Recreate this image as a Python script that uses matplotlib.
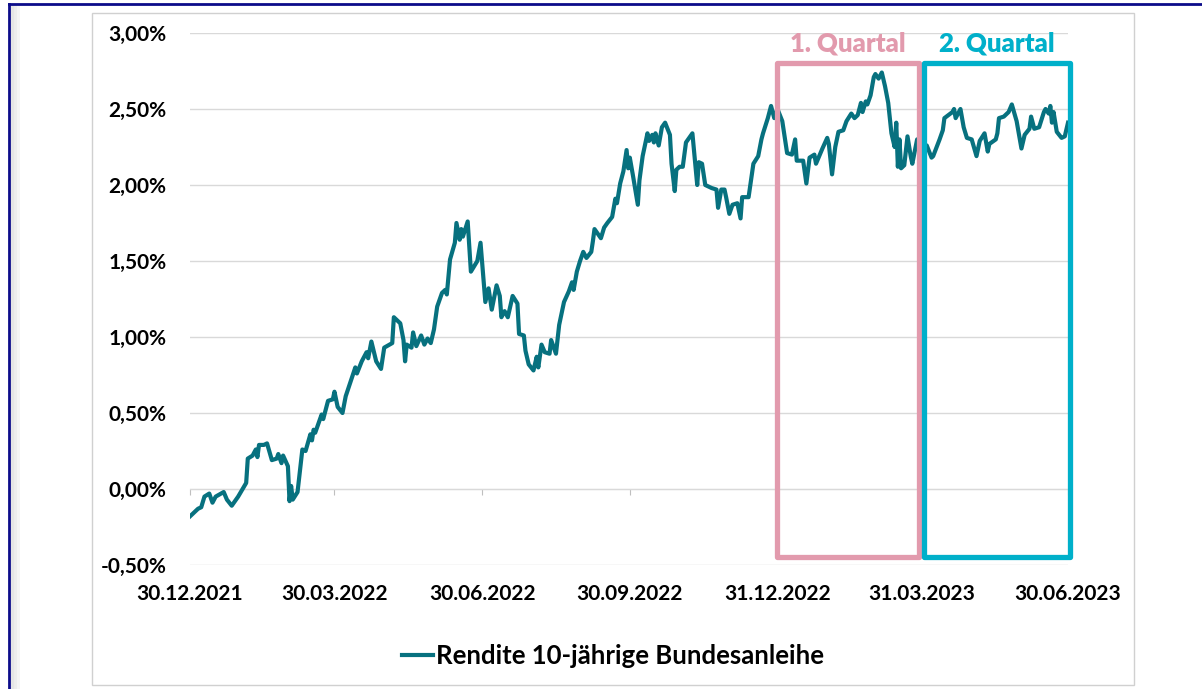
import matplotlib
matplotlib.use("Agg")
import matplotlib.pyplot as plt
import matplotlib.patches as mpatches
from matplotlib.lines import Line2D
from matplotlib.ticker import FuncFormatter
import pandas as pd

plt.rcParams["font.family"] = ["Lato", "DejaVu Sans"]
plt.rcParams["font.weight"] = "bold"

# --- data: 10y Bund yield in %, x = days after 30.12.2021 -------------------
START = pd.Timestamp("2021-12-30")
days = [
    0, 5, 7, 9, 12, 14, 16, 21, 23, 26,
    30, 35, 36, 39, 41, 42, 43, 46, 48, 51,
    54, 55, 57, 58, 61, 62, 63, 64, 67, 70,
    72, 75, 76, 77, 78, 82, 83, 86, 89, 90,
    92, 95, 97, 103, 104, 107, 110, 111, 113, 116,
    119, 121, 126, 127, 131, 133, 134, 135, 138, 139,
    141, 144, 146, 148, 150, 152, 154, 157, 159, 160,
    162, 165, 166, 168, 169, 170, 173, 175, 179, 181,
    184, 186, 188, 191, 193, 194, 196, 198, 201, 204,
    205, 208, 209, 211, 214, 216, 217, 219, 221, 224,
    225, 228, 230, 233, 236, 238, 239, 241, 243, 245,
    247, 250, 251, 252, 256, 258, 260, 263, 265, 266,
    268, 270, 272, 273, 274, 276, 279, 280, 282, 285,
    286, 288, 289, 290, 292, 294, 296, 299, 300, 302,
    303, 305, 307, 309, 313, 316, 317, 319, 321, 325,
    328, 329, 331, 333, 334, 336, 338, 341, 343, 344,
    348, 351, 354, 356, 357, 360, 362, 364, 366, 369,
    371, 372, 375, 377, 378, 382, 384, 386, 389, 390,
    394, 397, 398, 400, 402, 404, 407, 409, 412, 414,
    416, 418, 419, 421, 422, 424, 426, 427, 429, 431,
    433, 435, 437, 439, 440, 441, 442, 443, 445, 447,
    449, 450, 453, 455, 459, 462, 463, 467, 469, 470,
    475, 476, 477, 480, 482, 484, 487, 490, 492, 495,
    497, 498, 502, 503, 504, 507, 510, 512, 515, 518,
    520, 523, 524, 526, 529, 532, 533, 535, 536, 537,
    538, 540, 543, 545, 547,
]
yields = [
    -0.18, -0.13, -0.12, -0.05, -0.03, -0.09, -0.05, -0.02, -0.07, -0.11,
    -0.05, 0.04, 0.20, 0.22, 0.26, 0.21, 0.29, 0.29, 0.30, 0.19,
    0.20, 0.23, 0.17, 0.22, 0.15, -0.08, 0.02, -0.07, -0.02, 0.26,
    0.25, 0.36, 0.32, 0.39, 0.37, 0.49, 0.46, 0.58, 0.59, 0.64,
    0.54, 0.50, 0.61, 0.80, 0.76, 0.84, 0.90, 0.86, 0.97, 0.84,
    0.79, 0.93, 0.96, 1.13, 1.09, 0.98, 0.84, 0.95, 0.93, 1.03,
    0.94, 1.01, 0.95, 0.99, 0.96, 1.05, 1.20, 1.29, 1.31, 1.28,
    1.51, 1.62, 1.75, 1.64, 1.71, 1.66, 1.76, 1.43, 1.50, 1.62,
    1.23, 1.32, 1.18, 1.34, 1.27, 1.13, 1.17, 1.13, 1.27, 1.22,
    1.02, 1.01, 0.91, 0.82, 0.78, 0.87, 0.80, 0.95, 0.90, 0.89,
    0.98, 0.89, 1.08, 1.23, 1.30, 1.36, 1.31, 1.43, 1.50, 1.56,
    1.52, 1.56, 1.63, 1.71, 1.65, 1.72, 1.75, 1.79, 1.91, 1.88,
    2.01, 2.09, 2.23, 2.11, 2.18, 2.06, 1.87, 2.03, 2.19, 2.34,
    2.29, 2.33, 2.28, 2.34, 2.26, 2.38, 2.41, 2.33, 2.14, 1.96,
    2.10, 2.12, 2.12, 2.28, 2.34, 2.00, 2.15, 2.14, 2.00, 1.98,
    1.97, 1.85, 1.97, 1.97, 1.92, 1.81, 1.87, 1.88, 1.78, 1.92,
    1.92, 2.14, 2.19, 2.30, 2.34, 2.44, 2.52, 2.44, 2.50, 2.42,
    2.28, 2.21, 2.20, 2.30, 2.16, 2.16, 2.01, 2.18, 2.20, 2.14,
    2.24, 2.31, 2.27, 2.07, 2.25, 2.35, 2.36, 2.42, 2.47, 2.44,
    2.46, 2.54, 2.48, 2.55, 2.53, 2.59, 2.71, 2.73, 2.70, 2.74,
    2.65, 2.54, 2.34, 2.25, 2.41, 2.12, 2.30, 2.11, 2.13, 2.32,
    2.19, 2.14, 2.30, 2.27, 2.26, 2.18, 2.19, 2.30, 2.36, 2.44,
    2.48, 2.50, 2.44, 2.50, 2.38, 2.31, 2.30, 2.19, 2.29, 2.34,
    2.22, 2.27, 2.30, 2.34, 2.44, 2.45, 2.48, 2.53, 2.42, 2.24,
    2.33, 2.37, 2.45, 2.37, 2.38, 2.48, 2.50, 2.47, 2.52, 2.41,
    2.48, 2.35, 2.31, 2.32, 2.41,
]
tick_dates = ["2021-12-30", "2022-03-30", "2022-06-30", "2022-09-30",
              "2022-12-31", "2023-03-31", "2023-06-30"]
y_ticks = [-0.5, 0.0, 0.5, 1.0, 1.5, 2.0, 2.5, 3.0]
quarters = ["1. Quartal", "2. Quartal"]
quarter_spans = [("2022-12-31", "2023-03-29"), ("2023-04-01", "2023-07-01")]
quarter_colors = ["#E29AAD", "#00B0CA"]
box_low, box_high = -0.45, 2.80
series_label = "Rendite 10-jährige Bundesanleihe"

LINE = "#07717F"
GRID = "#D9D9D9"

dates = START + pd.to_timedelta(days, unit="D")

W, H = 1202, 689
fig = plt.figure(figsize=(W / 100, H / 100), dpi=100)
ax = fig.add_axes([190 / W, 1 - 565 / H, (1068 - 190) / W, (565 - 33) / H])

ax.plot(dates, yields, color=LINE, lw=3.0, solid_joinstyle="round", zorder=3)

ax.set_xlim(START, pd.Timestamp(tick_dates[-1]))
ax.set_ylim(-0.5, 3.0)
ax.set_yticks(y_ticks)
ax.yaxis.set_major_formatter(FuncFormatter(lambda v, _: f"{v:.2f}%".replace(".", ",")))
ax.grid(axis="y", color=GRID, lw=1.0)
ax.set_axisbelow(True)

ax.set_xticks(pd.to_datetime(tick_dates))
ax.set_xticklabels([pd.Timestamp(d).strftime("%d.%m.%Y") for d in tick_dates])

for s in ["top", "right", "left"]:
    ax.spines[s].set_visible(False)
ax.spines["bottom"].set_position(("data", 0))
ax.spines["bottom"].set_color(GRID)
ax.tick_params(axis="y", length=0, pad=17, labelsize=15)
ax.tick_params(axis="x", direction="out", length=4.5, color="#BFBFBF",
               pad=64, labelsize=15)

# quarter boxes
for name, (a, b), c in zip(quarters, quarter_spans, quarter_colors):
    x0, x1 = pd.Timestamp(a), pd.Timestamp(b)
    rect = mpatches.Rectangle((x0, box_low), x1 - x0, box_high - box_low,
                              fill=False, edgecolor=c, lw=3.8,
                              joinstyle="round", clip_on=False, zorder=4)
    ax.add_patch(rect)
    ax.text(x0 + (x1 - x0) / 2, 2.93, name, color=c, fontsize=18.5,
            fontweight="heavy", ha="center", va="center", clip_on=False)

# legend
handle = Line2D([], [], color=LINE, lw=3.0)
fig.legend([handle], [series_label], loc="center",
           bbox_to_anchor=(613 / W, 1 - 656 / H), frameon=False,
           handlelength=1.2, handletextpad=0.1, prop={"size": 18.5, "weight": "bold"})

# surrounding frames
fig.add_artist(mpatches.Rectangle((92 / W, 1 - 685 / H), (1134 - 92) / W, (685 - 13) / H,
                                  transform=fig.transFigure, fill=False,
                                  edgecolor="#D0D0D0", lw=1.0))
for i, a in enumerate([0.10, 0.07, 0.04]):
    fig.add_artist(Line2D([(12 + 3 * i) / W] * 2, [0, 1 - 6 / H],
                          transform=fig.transFigure, color="black", alpha=a, lw=2.2))
fig.add_artist(Line2D([8.5 / W, 8.5 / W], [0, 1 - 4 / H], transform=fig.transFigure,
                      color="#0C0C8A", lw=2.0))
fig.add_artist(Line2D([8.5 / W, 1], [1 - 4 / H, 1 - 4 / H], transform=fig.transFigure,
                      color="#0C0C8A", lw=2.0))

fig.savefig("out.png", dpi=100)
